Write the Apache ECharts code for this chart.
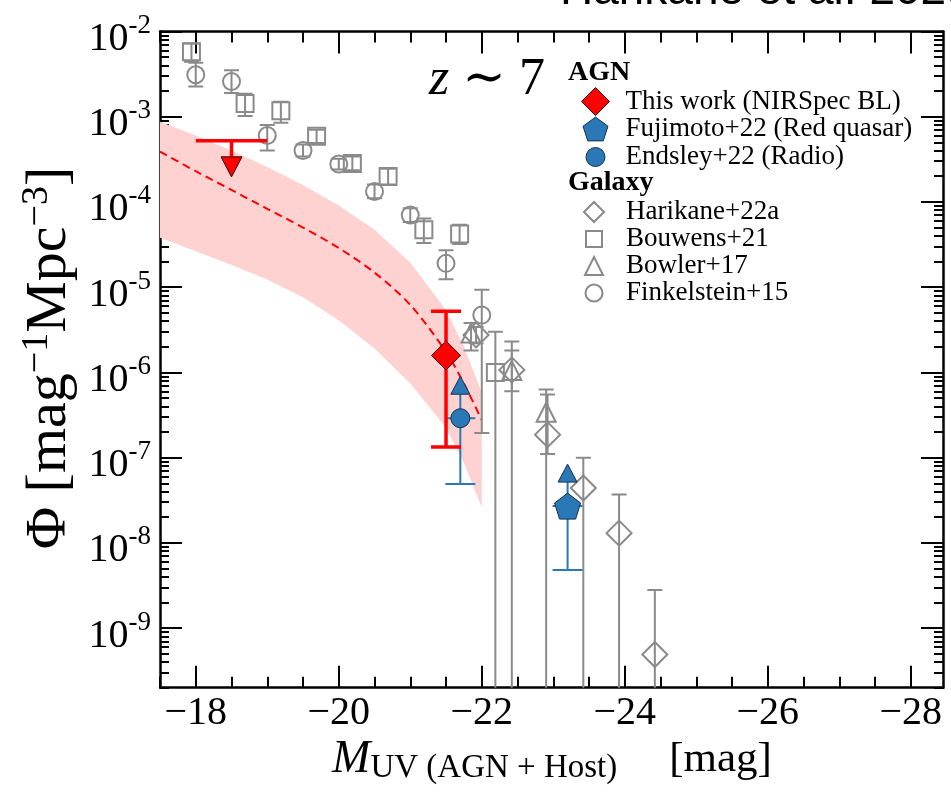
<!DOCTYPE html>
<html><head><meta charset="utf-8">
<script src="https://cdn.jsdelivr.net/npm/echarts@6/dist/echarts.min.js"></script>
<style>html,body{margin:0;padding:0;background:#fff}#c{width:951px;height:795px}</style>
</head><body><div id="c"></div>
<script>
// ---------- axis ticks ----------
const xTickLabels = [-18, -20, -22, -24, -26, -28];
const xMinorTicks = [-17.5,-18.5,-19,-19.5,-20.5,-21,-21.5,-22.5,-23,-23.5,-24.5,-25,-25.5,-26.5,-27,-27.5,-28.5];
const yTickLabels = [1e-9, 1e-8, 1e-7, 1e-6, 1e-5, 1e-4, 1e-3, 1e-2];

// ---------- AGN: this work ----------
const thisWorkM = [-21.5];
const thisWorkPhi = [1.58e-6];
const thisWorkLo = [1.33e-7];
const thisWorkHi = [5.2e-6];
const thisWorkLimM = [-18.5];
const thisWorkLimPhi = [5.2e-4];
const thisWorkLimMErr = [0.5];

// ---------- AGN: Fujimoto+22, Endsley+22 (lower limits) ----------
const fujimotoM = [-23.2];
const fujimotoPhi = [2.7e-8];
const fujimotoLo = [4.8e-9];
const endsleyM = [-21.7];
const endsleyPhi = [2.9e-7];
const endsleyLo = [4.9e-8];

// ---------- Galaxies (0 = error bar reaching zero) ----------
const harikaneM = [-21.92, -22.42, -22.92, -23.42, -23.92, -24.42];
const harikanePhi = [2.75e-6, 1.07e-6, 1.86e-7, 4.4e-8, 1.3e-8, 4.9e-10];
const harikaneLo = [2.2e-6, 6.0e-7, 1.1e-7, 0, 0, 0];
const harikaneHi = [3.4e-6, 1.8e-6, 5.5e-7, 1.0e-7, 3.7e-8, 2.8e-9];

const bouwensM = [-17.94, -18.69, -19.19, -19.69, -20.19, -20.69, -21.19, -21.69, -22.19];
const bouwensPhi = [5.76e-3, 1.43e-3, 1.17e-3, 5.89e-4, 2.83e-4, 1.98e-4, 4.7e-5, 4.2e-5, 1.0e-6];
const bouwensLo = [4.4e-3, 1.02e-3, 8.5e-4, 4.9e-4, 2.35e-4, 1.6e-4, 3.3e-5, 3.2e-5, 0];
const bouwensHi = [7.2e-3, 1.85e-3, 1.5e-3, 7.0e-4, 3.4e-4, 2.45e-4, 6.4e-5, 5.4e-5, 3.0e-6];

const bowlerM = [-21.85, -22.42, -22.9];
const bowlerPhi = [2.9e-6, 1.05e-6, 3.4e-7];
const bowlerLo = [1.8e-6, 0, 0];
const bowlerHi = [3.8e-6, 2.3e-6, 6.3e-7];

const finkelM = [-18.0, -18.5, -19.0, -19.5, -20.0, -20.5, -21.0, -21.5, -22.0];
const finkelPhi = [3.1e-3, 2.58e-3, 6.0e-4, 4.0e-4, 2.78e-4, 1.32e-4, 7.0e-5, 1.9e-5, 4.7e-6];
const finkelLo = [2.26e-3, 1.9e-3, 4.0e-4, 3.4e-4, 2.4e-4, 1.1e-4, 5.8e-5, 1.24e-5, 1.95e-7];
const finkelHi = [4.3e-3, 3.5e-3, 8.0e-4, 4.7e-4, 3.2e-4, 1.6e-4, 8.4e-5, 2.7e-5, 9.3e-6];

// ---------- model curve and band ----------
const modelM   = [-17.5, -18.0, -18.5, -19.0, -19.5, -20.0, -20.5, -21.0, -21.5, -21.75, -22.0];
const modelPhi = [3.89e-4, 2.29e-4, 1.38e-4, 8.3e-5, 5.0e-5, 2.88e-5, 1.48e-5, 6.2e-6, 1.74e-6, 7.4e-7, 2.75e-7];
const bandLo   = [3.8e-5, 2.63e-5, 1.82e-5, 1.23e-5, 7.6e-6, 4.1e-6, 1.9e-6, 7.4e-7, 2.24e-7, 8.7e-8, 2.6e-8];
const bandHi   = [8.7e-4, 6.0e-4, 4.0e-4, 2.57e-4, 1.58e-4, 9.1e-5, 4.7e-5, 1.95e-5, 5.4e-6, 2.0e-6, 5.8e-7];

// ---------- legend ----------
const legendAgn = ['This work (NIRSpec BL)', 'Fujimoto+22 (Red quasar)', 'Endsley+22 (Radio)'];
const legendGal = ['Harikane+22a', 'Bouwens+21', 'Bowler+17', 'Finkelstein+15'];

// ---------- styling ----------
const SERIF = '"Liberation Serif","DejaVu Serif",serif';
const GRAY = '#8a8a8a';
const RED = '#ff0000';
const BLUE = '#2a78b5';
const BLUE_EDGE = '#17324d';
const X_MIN = -28.45, X_MAX = -17.5, Y_MIN = 2e-10, Y_MAX = 1e-2;

const yMinorTicks = [];
for (let e = -10; e <= -3; e++) for (let k = 2; k <= 9; k++) {
  const v = k * Math.pow(10, e);
  if (v >= Y_MIN && v <= Y_MAX) yMinorTicks.push(v);
}

function zip(a, b, c) { return a.map((v, i) => c ? [v, b[i], c[i]] : [v, b[i]]); }

function errSeries(M, lo, hi, color, lw, capHalf, z) {
  return {
    type: 'custom', data: M.map((m, i) => [m, lo[i], hi[i]]), z: z, clip: true, silent: true,
    encode: { x: 0, y: 2 },
    renderItem: function (params, api) {
      const m = api.value(0), l = api.value(1), h = api.value(2);
      const cs = params.coordSys;
      const pT = api.coord([m, h]);
      const yB = l > 0 ? api.coord([m, l])[1] : cs.y + cs.height + 10;
      const st = { stroke: color, lineWidth: lw };
      const ch = [
        { type: 'line', shape: { x1: pT[0], y1: pT[1], x2: pT[0], y2: yB }, style: st },
        { type: 'line', shape: { x1: pT[0] - capHalf, y1: pT[1], x2: pT[0] + capHalf, y2: pT[1] }, style: st }
      ];
      if (l > 0) ch.push({ type: 'line', shape: { x1: pT[0] - capHalf, y1: yB, x2: pT[0] + capHalf, y2: yB }, style: st });
      return { type: 'group', children: ch };
    }
  };
}

function lowerLimitArrow(M, phi, z) {
  return {
    type: 'custom', data: zip(M, phi), z: z, silent: true, encode: { x: 0, y: 1 },
    renderItem: function (params, api) {
      const p = api.coord([api.value(0), api.value(1)]);
      return { type: 'group', children: [
        { type: 'line', shape: { x1: p[0], y1: p[1], x2: p[0], y2: p[1] - 25 }, style: { stroke: BLUE, lineWidth: 2 } },
        { type: 'polygon', shape: { points: [[p[0] - 9.5, p[1] - 24], [p[0] + 9.5, p[1] - 24], [p[0], p[1] - 42]] },
          style: { fill: BLUE, stroke: BLUE_EDGE, lineWidth: 1 } }
      ] };
    }
  };
}

const pentagon = 'path://M0,-1 L0.951,-0.309 L0.588,0.809 L-0.588,0.809 L-0.951,-0.309 Z';
const openStyle = { color: 'rgba(0,0,0,0)', borderColor: GRAY, borderWidth: 2, opacity: 1 };

const series = [
  {
    type: 'custom', data: zip(modelM, bandLo, bandHi), z: 1, silent: true, clip: true, encode: { x: 0, y: 2 },
    renderItem: function (params, api) {
      if (params.dataIndex !== 0) return null;
      const up = modelM.map((m, i) => api.coord([m, bandHi[i]]));
      const dn = modelM.map((m, i) => api.coord([m, bandLo[i]])).reverse();
      return { type: 'polygon', shape: { points: up.concat(dn) }, style: { fill: '#ffd2d2' } };
    }
  },
  {
    type: 'line', data: zip(modelM, modelPhi), z: 2, smooth: 0.3, showSymbol: false, silent: true,
    lineStyle: { color: RED, width: 2, type: [8, 5] }
  },
  errSeries(harikaneM, harikaneLo, harikaneHi, GRAY, 2, 7.5, 3),
  errSeries(bouwensM, bouwensLo, bouwensHi, GRAY, 2, 7.5, 3),
  errSeries(bowlerM, bowlerLo, bowlerHi, GRAY, 2, 7.5, 3),
  errSeries(finkelM, finkelLo, finkelHi, GRAY, 2, 7.5, 3),
  { name: 'Harikane+22a', type: 'scatter', data: zip(harikaneM, harikanePhi), symbol: 'diamond', symbolSize: 25, z: 4, silent: true, itemStyle: openStyle },
  { name: 'Bouwens+21', type: 'scatter', data: zip(bouwensM, bouwensPhi), symbol: 'rect', symbolSize: 17, z: 4, silent: true, itemStyle: openStyle },
  { name: 'Bowler+17', type: 'scatter', data: zip(bowlerM, bowlerPhi), symbol: 'triangle', symbolSize: 19, z: 4, silent: true, itemStyle: openStyle },
  { name: 'Finkelstein+15', type: 'scatter', data: zip(finkelM, finkelPhi), symbol: 'circle', symbolSize: 17, z: 4, silent: true, itemStyle: openStyle },
  errSeries(endsleyM, endsleyLo, endsleyPhi, BLUE, 2, 15, 5),
  errSeries(fujimotoM, fujimotoLo, fujimotoPhi, BLUE, 2, 15, 5),
  lowerLimitArrow(endsleyM, endsleyPhi, 6),
  lowerLimitArrow(fujimotoM, fujimotoPhi, 6),
  { name: 'Fujimoto+22 (Red quasar)', type: 'scatter', data: zip(fujimotoM, fujimotoPhi), symbol: pentagon, symbolSize: 26, z: 7, silent: true,
    itemStyle: { color: BLUE, borderColor: BLUE_EDGE, borderWidth: 1, opacity: 1 } },
  { name: 'Endsley+22 (Radio)', type: 'scatter', data: zip(endsleyM, endsleyPhi), symbol: 'circle', symbolSize: 19, z: 7, silent: true,
    itemStyle: { color: BLUE, borderColor: BLUE_EDGE, borderWidth: 1, opacity: 1 } },
  errSeries(thisWorkM, thisWorkLo, thisWorkHi, RED, 3.5, 15, 8),
  {
    type: 'custom', data: thisWorkLimM.map((m, i) => [m, thisWorkLimPhi[i], thisWorkLimMErr[i]]), z: 8, silent: true, encode: { x: 0, y: 1 },
    renderItem: function (params, api) {
      const m = api.value(0), phi = api.value(1), dm = api.value(2);
      const p = api.coord([m, phi]);
      const pa = api.coord([m + dm, phi]), pb = api.coord([m - dm, phi]);
      return { type: 'group', children: [
        { type: 'line', shape: { x1: pa[0], y1: p[1], x2: pb[0], y2: p[1] }, style: { stroke: RED, lineWidth: 3.5 } },
        { type: 'line', shape: { x1: p[0], y1: p[1], x2: p[0], y2: p[1] + 17 }, style: { stroke: RED, lineWidth: 3.5 } },
        { type: 'polygon', shape: { points: [[p[0] - 10.5, p[1] + 16], [p[0] + 10.5, p[1] + 16], [p[0], p[1] + 36]] },
          style: { fill: RED, stroke: '#300', lineWidth: 1 } }
      ] };
    }
  },
  { name: 'This work (NIRSpec BL)', type: 'scatter', data: zip(thisWorkM, thisWorkPhi), symbol: 'diamond', symbolSize: 29, z: 9, silent: true,
    itemStyle: { color: RED, borderColor: '#400', borderWidth: 1, opacity: 1 } }
];

function xAxisDef(pos, values, len, showLine, showLabel) {
  return {
    type: 'value', position: pos, min: X_MIN, max: X_MAX, inverse: true, gridIndex: 0,
    axisLine: { show: showLine, onZero: false, lineStyle: { color: '#000', width: 2.5 } },
    axisTick: { show: true, inside: true, length: len, customValues: values, lineStyle: { color: '#000', width: 2 } },
    axisLabel: showLabel ? {
      show: true, customValues: values, margin: 6, color: '#000', fontFamily: SERIF, fontSize: 40,
      formatter: v => String(v).replace('-', '\u2212')
    } : { show: false },
    splitLine: { show: false }
  };
}
function yAxisDef(pos, values, len, showLine, showLabel) {
  return {
    type: 'log', logBase: 10, position: pos, min: Y_MIN, max: Y_MAX, gridIndex: 0,
    axisLine: { show: showLine, onZero: false, lineStyle: { color: '#000', width: 2.5 } },
    axisTick: { show: true, inside: true, length: len, customValues: values, lineStyle: { color: '#000', width: 2 } },
    axisLabel: showLabel ? {
      show: true, customValues: values, margin: 9, color: '#000', fontFamily: SERIF, fontSize: 40,
      padding: [16, 0, 0, 0],
      formatter: v => '{b|10}{s|' + '-' + Math.abs(Math.round(Math.log10(v))) + '}',
      rich: {
        b: { fontFamily: SERIF, fontSize: 40, lineHeight: 54, color: '#000' },
        s: { fontFamily: SERIF, fontSize: 27, lineHeight: 27, verticalAlign: 'top', color: '#000' }
      }
    } : { show: false },
    splitLine: { show: false }
  };
}

// one legend component per entry so every icon keeps its own size
const legendRows = [
  { name: legendAgn[0], cx: 595, cy: 101, size: 28, bw: 1 },
  { name: legendAgn[1], cx: 595, cy: 129, size: 25, bw: 1 },
  { name: legendAgn[2], cx: 595, cy: 157, size: 19, bw: 1 },
  { name: legendGal[0], cx: 593, cy: 212, size: 20, bw: 2 },
  { name: legendGal[1], cx: 593, cy: 239, size: 16, bw: 2 },
  { name: legendGal[2], cx: 593, cy: 266, size: 18, bw: 2 },
  { name: legendGal[3], cx: 593, cy: 293, size: 17, bw: 2 }
];
const TEXT_X = 625;
const legends = legendRows.map(r => {
  const left = r.cx - r.size / 2;
  const gap = TEXT_X - (left + r.size + 5);
  return {
    data: [{ name: r.name, itemStyle: { borderWidth: r.bw } }],
    orient: 'vertical', left: left, top: r.cy - 14, padding: 0, itemGap: 0,
    itemWidth: r.size, itemHeight: r.size, selectedMode: false,
    formatter: n => '{g|}{t|' + n + '}',
    textStyle: {
      fontFamily: SERIF, fontSize: 27, color: '#000', lineHeight: 28,
      rich: { g: { width: gap }, t: { fontFamily: SERIF, fontSize: 27, color: '#000', lineHeight: 28 } }
    }
  };
});

const option = {
  animation: false,
  backgroundColor: '#fff',
  grid: { left: 160, right: 8, top: 31.4, bottom: 107.3, containLabel: false },
  xAxis: [
    xAxisDef('bottom', xTickLabels, 22, true, true),
    xAxisDef('bottom', xMinorTicks, 11, false, false),
    xAxisDef('top', xTickLabels, 22, true, false),
    xAxisDef('top', xMinorTicks, 11, false, false)
  ],
  yAxis: [
    yAxisDef('left', yTickLabels, 22, true, true),
    yAxisDef('left', yMinorTicks, 9, false, false),
    yAxisDef('right', yTickLabels, 22, true, false),
    yAxisDef('right', yMinorTicks, 9, false, false)
  ],
  legend: legends,
  graphic: [
    { type: 'text', left: 568, top: 59, style: { text: 'AGN', font: 'bold 28px ' + SERIF, fill: '#000' } },
    { type: 'text', left: 568, top: 169, style: { text: 'Galaxy', font: 'bold 28px ' + SERIF, fill: '#000' } },
    { type: 'text', x: 487, y: 80, style: {
        text: '{i|z}{n| \u223C 7}', align: 'center', verticalAlign: 'middle',
        rich: { i: { fontFamily: SERIF, fontStyle: 'italic', fontSize: 52, fill: '#000' },
                n: { fontFamily: SERIF, fontSize: 52, fill: '#000' } } } },
    { type: 'text', x: 560, y: -9, style: { text: 'Harikane et al. 2023', fontFamily: '"Liberation Sans",Arial,sans-serif',
        fontSize: 46, fill: '#000', align: 'left', verticalAlign: 'middle' } },
    { type: 'text', x: 552, y: 760, style: {
        text: '{m|M}{s|UV (AGN + Host)}{g| }{n|[mag]}', align: 'center', verticalAlign: 'middle',
        rich: { m: { fontFamily: SERIF, fontStyle: 'italic', fontSize: 46, lineHeight: 50, fill: '#000' },
                s: { fontFamily: SERIF, fontSize: 33, lineHeight: 28, verticalAlign: 'bottom', fill: '#000' },
                g: { width: 52, fontSize: 20 },
                n: { fontFamily: SERIF, fontSize: 43, lineHeight: 50, fill: '#000' } } } },
    { type: 'text', x: 50, y: 358, rotation: Math.PI / 2, style: {
        text: '{n|\u03A6 [mag}{s|\u22121}{n|Mpc}{s|\u22123}{n|]}', align: 'center', verticalAlign: 'middle',
        rich: { n: { fontFamily: SERIF, fontSize: 58, lineHeight: 64, fill: '#000' },
                s: { fontFamily: SERIF, fontSize: 38, lineHeight: 38, verticalAlign: 'top', fill: '#000' } } } }
  ],
  series: series
};

const chart = echarts.init(document.getElementById('c'), null, { renderer: 'canvas' });
chart.setOption(option);
</script>
</body></html>
